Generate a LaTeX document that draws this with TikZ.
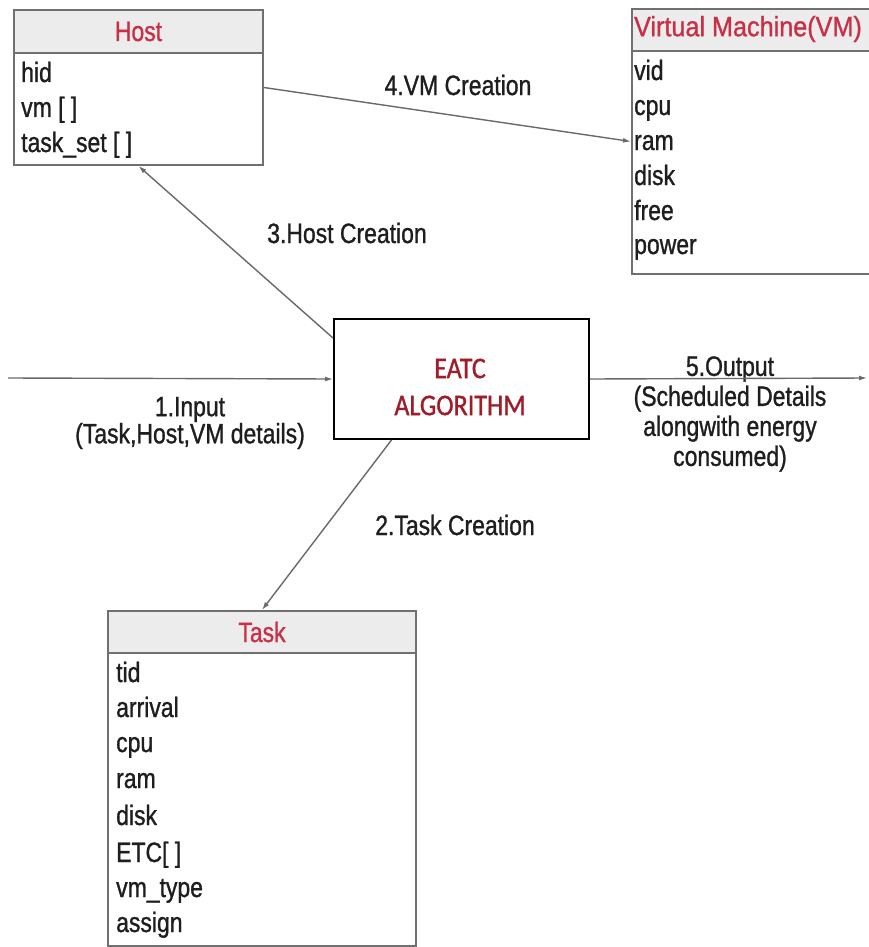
\documentclass[tikz,border=0pt]{standalone}
\usepackage{fontspec}
\setmainfont[FakeStretch=0.82, FakeBold=1]{Liberation Sans}
\newfontfamily\calfont[FakeStretch=0.87, FakeBold=1]{Carlito}
\usetikzlibrary{arrows.meta}
\definecolor{boxgray}{RGB}{112,112,112}
\definecolor{headfill}{RGB}{236,236,236}
\definecolor{headred}{RGB}{200,48,72}
\definecolor{algred}{RGB}{160,28,40}
\definecolor{linegray}{RGB}{105,105,105}
\definecolor{txt}{RGB}{30,30,30}
\begin{document}
\begin{tikzpicture}[x=1pt,y=-1pt,
  classbox/.style={draw=boxgray, line width=2pt, anchor=north west, inner sep=0pt},
  headbox/.style={draw=boxgray, line width=2pt, fill=headfill, anchor=north west, inner sep=0pt, text=headred, font=\fontsize{28}{30}\selectfont},
  field/.style={anchor=base west, inner sep=0pt, text=txt, font=\fontsize{28}{30}\selectfont},
  lbl/.style={font=\fontsize{28}{26}\selectfont, text=txt, align=center, inner sep=0pt},
  conn/.style={draw=linegray, line width=1.4pt, -{Latex[length=8pt,width=5pt]}}]
\useasboundingbox[fill=white] (0,0) rectangle (869,947);

% Host
\node[classbox, minimum width=249pt, minimum height=155pt] (host) at (13,9) {};
\node[headbox, minimum width=249pt, minimum height=43pt] (hosthead) at (13,9) {Host};
\node[field] (hid) at (21,82) {hid};
\node[field] (hvm) at (21,117) {vm [ ]};
\node[field] (hts) at (21,152) {task\_set [ ]};

% Virtual Machine
\node[classbox, minimum width=245pt, minimum height=265pt] (vm) at (631,8) {};
\node[headbox, minimum width=245pt, minimum height=42pt] (vmhead) at (631,8) {};
\node[text=headred, inner sep=0pt, font=\fontsize{28}{30}\selectfont\addfontfeature{FakeStretch=0.9}] (vmtitle) at (748,29) {Virtual Machine(VM)};
\node[field] (vvid) at (634,80) {vid};
\node[field] (vcpu) at (634,115) {cpu};
\node[field] (vram) at (634,150) {ram};
\node[field] (vdisk) at (634,185) {disk};
\node[field] (vfree) at (634,220) {free};
\node[field] (vpow) at (634,254) {power};

% Task
\node[classbox, minimum width=308pt, minimum height=335pt] (task) at (107,610) {};
\node[headbox, minimum width=308pt, minimum height=42pt] (taskhead) at (107,610) {Task};
\node[field] (ttid) at (116,682) {tid};
\node[field] (tarr) at (116,717) {arrival};
\node[field] (tcpu) at (116,752) {cpu};
\node[field] (tram) at (116,788) {ram};
\node[field] (tdisk) at (116,825) {disk};
\node[field] (tetc) at (116,862) {ETC[ ]};
\node[field] (tvmt) at (116,897) {vm\_type};
\node[field] (tasg) at (116,932) {assign};

% EATC algorithm
\node[draw=black, line width=2pt, minimum width=255pt, minimum height=120pt, anchor=north west, inner sep=0pt] (eatc) at (333,318) {};
\node[font=\calfont\fontsize{30}{37}\selectfont, text=algred, align=center, inner sep=0pt] (eatctext) at (460,387) {EATC\\ALGORITHM};

% labels
\node[lbl] (l1) at (190,423) {1.Input\\(Task,Host,VM details)};
\node[lbl, font=\fontsize{28}{30}\selectfont] (l5) at (730,414) {5.Output\\(Scheduled Details\\alongwith energy\\consumed)};
\node[lbl] (l3) at (347,233) {3.Host Creation};
\node[lbl] (l2) at (455,525) {2.Task Creation};
\node[lbl] (l4) at (458,85) {4.VM Creation};

% connectors
\coordinate (inpt) at (8,378);
\coordinate (outp) at (867,378);
\draw[conn] (inpt) -- (eatc.west);
\draw[conn] (eatc.east) -- (outp);
\draw[conn] ([yshift=-20pt]eatc.north west) -- (host.south);
\draw[conn] (host.east) -- (vm.west);
\draw[conn] ([xshift=-70pt]eatc.south) -- (task.north);
\end{tikzpicture}
\end{document}
